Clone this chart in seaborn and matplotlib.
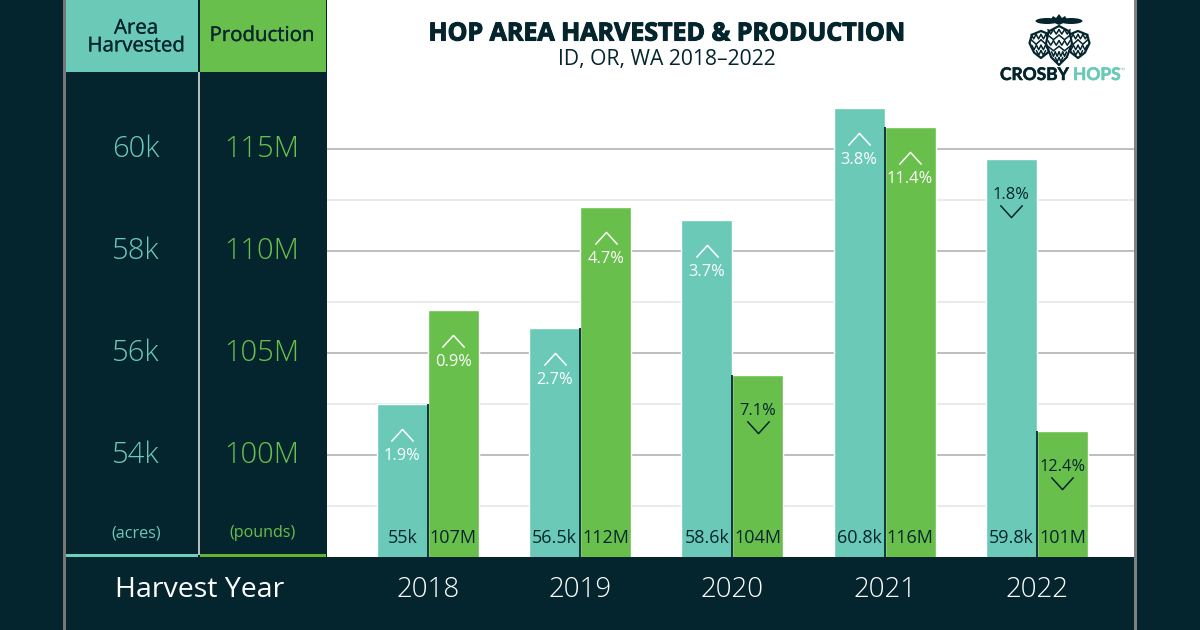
import numpy as np
import pandas as pd
import seaborn as sns
import matplotlib
matplotlib.use("Agg")
import matplotlib.pyplot as plt
import matplotlib.patheffects as pe
from matplotlib.patches import Rectangle, Ellipse, Polygon
from matplotlib.lines import Line2D
from matplotlib.path import Path
from matplotlib.transforms import ScaledTranslation

years = ["2018", "2019", "2020", "2021", "2022"]
area_values = [55.0, 56.5, 58.6, 60.8, 59.8]
prod_values = [107.1, 112.15, 103.9, 116.1, 101.2]
area_labels = ["55k", "56.5k", "58.6k", "60.8k", "59.8k"]
prod_labels = ["107M", "112M", "104M", "116M", "101M"]
area_change = ["1.9%", "2.7%", "3.7%", "3.8%", "1.8%"]
area_up = [True, True, True, True, False]
prod_change = ["0.9%", "4.7%", "7.1%", "11.4%", "12.4%"]
prod_up = [True, True, False, True, False]
area_ticks = [54, 56, 58, 60]
area_ticklabels = ["54k", "56k", "58k", "60k"]
prod_ticks = [100, 105, 110, 115]
prod_ticklabels = ["100M", "105M", "110M", "115M"]
minor_ticks = [53, 55, 57, 59]

DARK = "#04252E"
TEAL = "#6BCAB7"
GREEN = "#69BF4B"
W, H = 1200, 630

sns.set_theme(style="white")
plt.rcParams["font.family"] = ["Open Sans", "DejaVu Sans"]

fig = plt.figure(figsize=(12, 6.3), dpi=100, facecolor=DARK)


def rect(x0, y0, x1, y1, color, z=0):
    fig.add_artist(Rectangle((x0 / W, 1 - y1 / H), (x1 - x0) / W, (y1 - y0) / H,
                             transform=fig.transFigure, fc=color, ec="none", zorder=z))


def label(x, y, s, color, size, weight="normal", **kw):
    return fig.text(x / W, 1 - y / H, s, color=color, fontsize=size, fontweight=weight,
                    ha="center", va="center", zorder=5, **kw)


# frame and side panels
rect(63, 0, 66, 630, "#777777", 2)
rect(1134, 0, 1137, 630, "#808080", 2)
rect(66, 0, 198, 72, TEAL)
rect(200, 0, 326, 72, GREEN)
rect(198, 72, 200, 555, "#B5BDBF")
rect(66, 554, 198, 557, "#6BD0BC")
rect(200, 554, 326, 557, "#62B52F")

# main chart
ax = fig.add_axes([327 / W, 1 - 557 / H, 807 / W, 557 / H], facecolor="white")
ax2 = ax.twinx()
ax2.patch.set_alpha(0)

area_df = pd.DataFrame({"year": years, "value": area_values, "metric": "Area"})
prod_df = pd.DataFrame({"year": years, "value": prod_values, "metric": "Production"})
palette = {"Area": TEAL, "Production": GREEN}
order = ["Area", "Production"]
for a, d in ((ax, area_df), (ax2, prod_df)):
    sns.barplot(data=d, x="year", y="value", hue="metric", hue_order=order, palette=palette,
                order=years, width=0.67, gap=0, dodge=True, saturation=1, legend=False,
                ax=a, zorder=3)

ax.set_xlim(-0.662, 4.638)
ax2.set_xlim(-0.662, 4.638)
ax.set_ylim(52, 52 + 557 / 51)
ax2.set_ylim(95, 95 + 557 / 20.4)
ax.set_xlabel("")
ax.set_ylabel("")
ax2.set_ylabel("")
ax2.set_xlabel("")

ax.set_axisbelow(True)
ax.set_yticks(area_ticks)
ax.set_yticks(minor_ticks, minor=True)
ax.grid(True, axis="y", which="major", color="#B3B3B3", lw=1.2)
ax.grid(True, axis="y", which="minor", color="#E6E6E6", lw=1.2)
ax.set_yticklabels(area_ticklabels, color=TEAL, fontsize=21, fontweight="light", ha="center")
ax.tick_params(axis="y", which="both", length=0)
ax.tick_params(axis="y", which="major", pad=137.5)
ax2.yaxis.tick_left()
ax2.set_yticks(prod_ticks)
ax2.set_yticklabels(prod_ticklabels, color=GREEN, fontsize=21, fontweight="light", ha="center")
ax2.tick_params(axis="y", which="both", length=0, pad=46.8)
ax2.grid(False)
lift = ScaledTranslation(0, 3.5 / 100, fig.dpi_scale_trans)
for lab in list(ax.get_yticklabels()) + list(ax2.get_yticklabels()):
    lab.set_transform(lab.get_transform() + lift)
ax.tick_params(axis="x", length=0, pad=14)
ax.set_xticks(range(len(years)))
ax.set_xticklabels(years, color="white", fontsize=20, fontweight="light")
ax2.tick_params(axis="x", length=0, labelbottom=False)
for s in ax.spines.values():
    s.set_visible(False)
for s in ax2.spines.values():
    s.set_visible(False)

chev_up = Path([(-1, -0.55), (0, 0.55), (1, -0.55)], [Path.MOVETO, Path.LINETO, Path.LINETO])
chev_dn = Path([(-1, 0.55), (0, -0.55), (1, 0.55)], [Path.MOVETO, Path.LINETO, Path.LINETO])
px = 72 / 100


def annotate(a, xs, vals, values_text, ups, texts):
    for x, v, vt, up, t in zip(xs, vals, values_text, ups, texts):
        col = "white" if up else DARK
        off_t = -52 if up else -36
        off_c = -31 if up else -52
        a.annotate(t, (x, v), xytext=(0, off_t * px), textcoords="offset points", color=col,
                   ha="center", va="center", fontsize=11.8, zorder=6)
        tr = a.transData + ScaledTranslation(0, off_c / 100, fig.dpi_scale_trans)
        a.plot([x], [v], marker=chev_up if up else chev_dn, ms=16, mfc="none", mec=col,
               mew=1.1, transform=tr, zorder=6, clip_on=False, ls="none")
        a.annotate(vt, (x, a.get_ylim()[0]), xytext=(0, 19 * px), textcoords="offset points",
                   color=DARK, ha="center", va="center", fontsize=13, zorder=6)


pos = np.arange(len(years))
annotate(ax, pos - 0.1675, area_values, area_labels, area_up, area_change)
annotate(ax2, pos + 0.1675, prod_values, prod_labels, prod_up, prod_change)

# thin dark divider where the two bars of a year touch
area_on_prod = [95 + (v - 52) * 51 / 20.4 for v in area_values]
ax2.vlines(pos, 95, [min(a, b) for a, b in zip(area_on_prod, prod_values)],
           color=DARK, lw=1.3, zorder=5)
ax.set_ylim(52, 52 + 557 / 51)
ax2.set_ylim(95, 95 + 557 / 20.4)

# headers and captions
stroke = [pe.withStroke(linewidth=0.2, foreground=DARK)]
fig.text(136 / W, 1 - 37.5 / H, "Area\nHarvested", color=DARK, fontsize=14.7, ha="center", va="center",
         linespacing=0.85, zorder=5, path_effects=stroke)
label(262, 36, "Production", DARK, 14.7, path_effects=stroke)
label(136, 533, "(acres)", TEAL, 11.6)
label(262, 533, "(pounds)", GREEN, 11.6)
label(199.5, 590, "Harvest Year", "white", 20.5)
label(667, 34, "HOP AREA HARVESTED & PRODUCTION", DARK, 18, "bold",
      path_effects=[pe.withStroke(linewidth=0.8, foreground=DARK)])
label(667, 60, "ID, OR, WA 2018\u20132022", DARK, 15.2)

# logo
lstroke = [pe.withStroke(linewidth=0.4, foreground=DARK)]
fig.text(1000 / W, 1 - 75 / H, "CROSBY", color=DARK, fontsize=12.5, fontweight="bold", family="Lato",
         ha="left", va="center", zorder=5, path_effects=lstroke)
fig.text(1073 / W, 1 - 75 / H, "HOPS", color=TEAL, fontsize=12.5, fontweight="bold", family="Lato",
         ha="left", va="center", zorder=5, path_effects=[pe.withStroke(linewidth=0.4, foreground=TEAL)])
fig.text(1120 / W, 1 - 70 / H, "\u2122", color=TEAL, fontsize=4.5, ha="left", va="center", zorder=5)


def P(x, y):
    return (x / W, 1 - y / H)


def cone(cx, top, bot, hw, rows, z=6):
    h = bot - top
    outline = [P(cx, bot), P(cx - hw * 0.6, bot - h * 0.2), P(cx - hw, bot - h * 0.55),
               P(cx - hw * 0.8, top + h * 0.14), P(cx, top), P(cx + hw * 0.8, top + h * 0.14),
               P(cx + hw, bot - h * 0.55), P(cx + hw * 0.6, bot - h * 0.2)]
    fig.add_artist(Polygon(outline, closed=True, transform=fig.transFigure, fc="white", ec=DARK, lw=1.6,
                           joinstyle="round", zorder=z))
    for k in range(1, rows):
        y = top + h * k / rows
        # half-width of the cone at this height
        f = hw * (0.85 if k / rows < 0.6 else max(0.25, (1 - k / rows) * 2.0))
        n = 2 if k % 2 else 1
        step = f / n
        for j in range(-n, n, 1):
            x0 = cx + j * step
            x1 = x0 + step
            xm = (x0 + x1) / 2
            fig.add_artist(Line2D([x0 / W, xm / W, x1 / W], [1 - (y - 2) / H, 1 - (y + 2.5) / H, 1 - (y - 2) / H],
                                  transform=fig.transFigure, color=DARK, lw=1.1, zorder=z + 1))


cone(1041, 31, 58, 11.5, 5, 6)
cone(1078, 31, 58, 11.5, 5, 6)
cone(1059, 26, 65, 13, 7, 8)
for ex, w_ in ((1047, 23), (1071, 23)):
    fig.add_artist(Ellipse(P(ex, 21), w_ / W, 6 / H, transform=fig.transFigure, fc=DARK, ec="none", zorder=11))
fig.add_artist(Polygon([P(1050, 21), P(1053, 16), P(1056, 18), P(1059, 14), P(1062, 18), P(1065, 16), P(1068, 21), P(1059, 25)],
                       closed=True, transform=fig.transFigure, fc=DARK, ec="none", zorder=11))

fig.savefig("out.png", dpi=100, facecolor=DARK)
